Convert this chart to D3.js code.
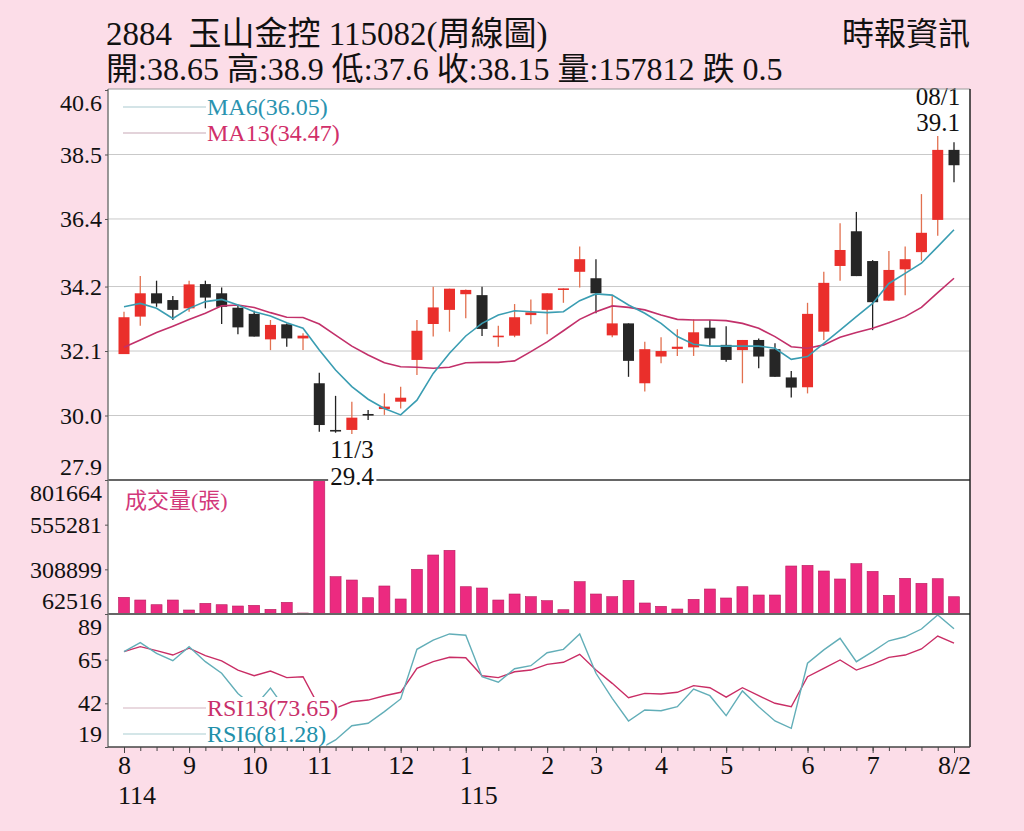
<!DOCTYPE html>
<html>
<head>
<meta charset="utf-8">
<script src="https://cdn.jsdelivr.net/npm/d3@7"></script>
<style>
  body { margin: 0; background: #fcdde8; }
  svg { display: block; }
  text { font-family: "Liberation Serif", "Noto Sans CJK TC", serif; }
</style>
</head>
<body>
<svg id="chart" width="1024" height="831"></svg>
<script>
// weekly OHLC (52 weeks)
const openP = [32.00, 33.22, 33.98, 33.76, 33.49, 34.28, 33.98, 33.51, 33.31, 32.48, 32.97, 32.51, 31.05, 29.53, 29.53, 30.05, 30.21, 30.45, 31.81, 32.98, 33.44, 33.95, 33.92, 32.57, 32.60, 33.27, 33.44, 34.09, 34.68, 34.47, 32.61, 33.00, 31.05, 31.92, 32.17, 32.22, 32.86, 32.30, 32.13, 32.46, 32.16, 31.24, 30.92, 32.73, 34.87, 36.00, 35.03, 33.74, 34.76, 35.32, 36.37, 38.65];
const highP = [33.38, 34.54, 34.39, 33.89, 34.39, 34.39, 34.17, 33.60, 33.41, 33.11, 33.00, 32.68, 31.39, 30.64, 30.45, 30.18, 30.72, 30.94, 33.11, 34.19, 34.13, 34.10, 34.19, 32.92, 33.63, 33.78, 33.98, 34.14, 35.50, 35.09, 33.92, 33.00, 32.40, 32.55, 32.81, 33.13, 33.11, 32.91, 32.46, 32.51, 32.35, 31.45, 33.67, 34.68, 36.26, 36.63, 35.06, 35.36, 35.50, 37.21, 39.10, 38.90];
const lowP = [32.00, 32.92, 33.54, 33.11, 33.38, 33.49, 32.98, 32.65, 32.57, 32.13, 32.24, 32.13, 29.47, 29.44, 29.40, 29.85, 30.02, 30.23, 31.32, 32.57, 32.73, 33.17, 32.59, 32.24, 32.55, 32.97, 32.65, 33.67, 34.17, 33.33, 32.55, 31.26, 30.78, 31.70, 31.94, 31.94, 32.24, 31.75, 31.05, 31.54, 31.26, 30.59, 30.72, 32.46, 34.39, 34.54, 32.78, 33.74, 33.92, 35.04, 35.85, 37.60];
const closeP = [33.20, 33.98, 33.65, 33.44, 34.27, 33.84, 33.54, 32.87, 32.57, 32.95, 32.51, 32.60, 29.69, 29.50, 29.93, 30.00, 30.29, 30.58, 32.76, 33.52, 34.13, 34.09, 32.82, 32.60, 33.20, 33.36, 33.98, 34.14, 35.09, 33.98, 33.00, 31.78, 32.16, 32.10, 32.24, 32.71, 32.51, 31.81, 32.46, 31.92, 31.26, 30.91, 33.31, 34.32, 35.39, 34.54, 33.69, 34.74, 35.09, 35.95, 38.65, 38.15];

const ma6 = [33.54, 33.65, 33.49, 33.16, 33.49, 33.71, 33.78, 33.60, 33.38, 33.24, 33.02, 32.84, 32.13, 31.48, 30.94, 30.53, 30.23, 30.02, 30.50, 31.37, 32.03, 32.59, 33.00, 33.27, 33.41, 33.38, 33.35, 33.38, 33.74, 33.96, 33.92, 33.60, 33.33, 33.00, 32.57, 32.32, 32.26, 32.26, 32.26, 32.26, 32.19, 31.83, 31.92, 32.35, 32.78, 33.22, 33.65, 34.30, 34.63, 34.96, 35.50, 36.05];
const ma13 = [32.22, 32.46, 32.70, 32.91, 33.13, 33.33, 33.57, 33.60, 33.52, 33.35, 33.20, 33.19, 32.98, 32.62, 32.26, 31.97, 31.72, 31.59, 31.57, 31.54, 31.57, 31.72, 31.73, 31.73, 31.78, 32.08, 32.40, 32.76, 33.13, 33.38, 33.57, 33.52, 33.44, 33.27, 33.13, 33.11, 33.11, 33.09, 33.00, 32.84, 32.57, 32.24, 32.19, 32.30, 32.55, 32.70, 32.84, 33.02, 33.22, 33.52, 34.00, 34.47];

const volume = [154600, 139700, 113800, 139700, 84600, 121500, 113800, 106600, 110500, 88400, 127000, 68000, 801664, 268300, 250000, 152400, 217000, 145300, 309100, 388000, 413900, 213100, 205900, 139700, 172800, 158000, 135900, 86200, 240700, 172800, 158000, 248400, 123200, 105000, 90100, 143600, 200400, 150800, 213100, 167300, 167300, 327300, 331100, 299700, 255600, 340000, 298000, 165700, 259400, 231900, 257200, 157812];

const rsi6 = [69.2, 73.9, 68.3, 64.4, 71.8, 63.9, 57.8, 47.2, 40.0, 50.0, 38.0, 36.0, 18.0, 22.7, 30.2, 31.5, 37.6, 44.3, 70.4, 75.3, 78.5, 77.8, 56.0, 53.1, 60.2, 61.8, 68.6, 70.4, 78.5, 57.8, 44.6, 32.7, 38.5, 38.1, 40.2, 49.5, 46.0, 35.5, 48.5, 40.2, 32.7, 28.8, 63.1, 70.1, 76.2, 63.9, 69.2, 74.9, 77.0, 81.1, 88.5, 81.28];
const rsi13 = [69.2, 71.8, 69.7, 67.4, 71.0, 67.1, 64.3, 59.5, 56.5, 59.0, 55.5, 56.0, 40.0, 39.5, 42.8, 43.7, 46.0, 47.8, 60.4, 63.9, 66.2, 66.0, 56.5, 55.5, 58.6, 59.5, 62.5, 63.6, 67.8, 59.5, 52.5, 44.9, 47.2, 46.9, 47.8, 51.3, 50.2, 45.2, 50.2, 46.0, 42.0, 40.2, 56.0, 60.4, 64.8, 59.5, 62.5, 66.2, 67.4, 70.6, 77.4, 73.65];

const priceTicks = [27.9, 30.0, 32.1, 34.2, 36.4, 38.5, 40.6];
const volTicks = [62516, 308899, 555281, 801664];
const rsiTicks = [19, 42, 65, 89];
const monthIdx = [0, 4, 8, 12, 17, 21, 26, 29, 33, 37, 42, 46, 51];
const monthLabels = ["8", "9", "10", "11", "12", "1", "2", "3", "4", "5", "6", "7", "8/2"];
const yearLabels = { 0: "114", 21: "115" };

const svg = d3.select("#chart");
const L = 108, R = 970;
const plotTop = 89, priceBottom = 480, volBottom = 614, rsiBottom = 747;

const x = d3.scaleLinear().domain([0, 51]).range([124, 954]);
const yPrice = d3.scaleLinear().domain([27.9, 40.6]).range([priceBottom, plotTop + 1]);
const yVol = d3.scaleLinear().domain([62516, 801664]).range([volBottom, priceBottom]);
const yRsi = d3.scaleLinear().domain([19, 89]).range([rsiBottom, volBottom]);

// header
svg.append("text").attr("x", 106).attr("y", 45).attr("font-size", 33).attr("fill", "#111")
  .style("white-space", "pre").text("2884  玉山金控 115082(周線圖)");
svg.append("text").attr("x", 970).attr("y", 45).attr("font-size", 32).attr("fill", "#111")
  .attr("text-anchor", "end").text("時報資訊");
svg.append("text").attr("x", 106).attr("y", 80).attr("font-size", 32).attr("fill", "#111")
  .text("開:38.65 高:38.9 低:37.6 收:38.15 量:157812 跌 0.5");

// plot background
svg.append("rect").attr("x", L).attr("y", plotTop).attr("width", R - L).attr("height", rsiBottom - plotTop)
  .attr("fill", "#fff");

const defs = svg.append("defs");
defs.append("clipPath").attr("id", "clipRsi").append("rect")
  .attr("x", L).attr("y", volBottom).attr("width", R - L).attr("height", rsiBottom - volBottom);

// price grid
svg.append("g").selectAll("line").data(priceTicks.slice(1, -1)).join("line")
  .attr("x1", L).attr("x2", R).attr("y1", d => yPrice(d)).attr("y2", d => yPrice(d))
  .attr("stroke", "#c9c9c9").attr("stroke-width", 1);

// candles
const candles = svg.append("g");
const up = i => closeP[i] >= openP[i];
d3.range(52).forEach(i => {
  const cx = x(i);
  candles.append("line").attr("x1", cx).attr("x2", cx)
    .attr("y1", yPrice(highP[i])).attr("y2", yPrice(lowP[i]))
    .attr("stroke", up(i) ? "#e2704f" : "#222").attr("stroke-width", 1.3);
  const y0 = yPrice(Math.max(openP[i], closeP[i]));
  const y1 = yPrice(Math.min(openP[i], closeP[i]));
  candles.append("rect").attr("x", cx - 5.5).attr("width", 11)
    .attr("y", y0).attr("height", Math.max(1.6, y1 - y0))
    .attr("fill", up(i) ? "#ea2f2b" : "#262626");
});

// moving averages
const priceLine = d3.line().x((d, i) => x(i)).y(d => yPrice(d));
svg.append("path").attr("d", priceLine(ma13)).attr("fill", "none")
  .attr("stroke", "#c2306a").attr("stroke-width", 1.6);
svg.append("path").attr("d", priceLine(ma6)).attr("fill", "none")
  .attr("stroke", "#3a9db2").attr("stroke-width", 1.6);

// MA legend
svg.append("line").attr("x1", 123).attr("x2", 206).attr("y1", 107).attr("y2", 107)
  .attr("stroke", "#a9c9cf").attr("stroke-width", 1.2);
svg.append("line").attr("x1", 123).attr("x2", 206).attr("y1", 133).attr("y2", 133)
  .attr("stroke", "#c8a8b6").attr("stroke-width", 1.2);
svg.append("text").attr("x", 207).attr("y", 115).attr("font-size", 24).attr("fill", "#2a93b0").text("MA6(36.05)");
svg.append("text").attr("x", 207).attr("y", 141).attr("font-size", 24).attr("fill", "#d12f6a").text("MA13(34.47)");

// high note
svg.append("text").attr("x", 938).attr("y", 105).attr("font-size", 25).attr("text-anchor", "middle")
  .attr("fill", "#111").text("08/1");
svg.append("text").attr("x", 938).attr("y", 131).attr("font-size", 25).attr("text-anchor", "middle")
  .attr("fill", "#111").text("39.1");

// volume bars
svg.append("g").selectAll("rect").data(volume).join("rect")
  .attr("x", (d, i) => x(i) - 5.5).attr("width", 11)
  .attr("y", d => yVol(d)).attr("height", d => volBottom - yVol(d))
  .attr("fill", "#ec2a80").attr("stroke", "#b81e5e").attr("stroke-width", 0.6);
svg.append("text").attr("x", 125).attr("y", 508).attr("font-size", 22).attr("fill", "#d2387a")
  .text("成交量(張)");

// RSI
const rsiLine = d3.line().x((d, i) => x(i)).y(d => yRsi(d));
const rsiG = svg.append("g").attr("clip-path", "url(#clipRsi)");
rsiG.append("path").attr("d", rsiLine(rsi13)).attr("fill", "none")
  .attr("stroke", "#c92d65").attr("stroke-width", 1.4);
rsiG.append("path").attr("d", rsiLine(rsi6)).attr("fill", "none")
  .attr("stroke", "#62aeb8").attr("stroke-width", 1.4);

svg.append("line").attr("x1", 123).attr("x2", 206).attr("y1", 708).attr("y2", 708)
  .attr("stroke", "#d3b3c0").attr("stroke-width", 1.2);
svg.append("line").attr("x1", 123).attr("x2", 206).attr("y1", 734).attr("y2", 734)
  .attr("stroke", "#a9cdd2").attr("stroke-width", 1.2);
function boxedText(tx, ty, size, color, str) {
  const t = svg.append("text").attr("x", tx).attr("y", ty).attr("font-size", size)
    .attr("fill", color).text(str);
  const b = t.node().getBBox();
  svg.insert("rect", () => t.node()).attr("x", b.x).attr("y", b.y + 2)
    .attr("width", b.width).attr("height", b.height - 2).attr("fill", "#fff");
  return t;
}
boxedText(207, 716, 24, "#c9306a", "RSI13(73.65)");
boxedText(207, 742, 24, "#2290aa", "RSI6(81.28)");

// panel frames
svg.append("line").attr("x1", L).attr("x2", R).attr("y1", plotTop).attr("y2", plotTop)
  .attr("stroke", "#9a9a9a").attr("stroke-width", 1);
[priceBottom, volBottom].forEach(yy => {
  svg.append("line").attr("x1", L).attr("x2", R).attr("y1", yy).attr("y2", yy)
    .attr("stroke", "#666").attr("stroke-width", 1.8);
});
svg.append("line").attr("x1", L).attr("x2", L).attr("y1", plotTop).attr("y2", rsiBottom)
  .attr("stroke", "#777").attr("stroke-width", 1.5);
svg.append("line").attr("x1", R).attr("x2", R).attr("y1", plotTop).attr("y2", rsiBottom)
  .attr("stroke", "#222").attr("stroke-width", 1.5);

// 11/3 low note (boxed so it sits over the divider)
svg.append("text").attr("x", 352).attr("y", 458).attr("font-size", 25).attr("text-anchor", "middle")
  .attr("fill", "#111").text("11/3");
const lowNote = svg.append("text").attr("x", 352).attr("y", 485).attr("font-size", 25)
  .attr("text-anchor", "middle").attr("fill", "#111").text("29.4");
const lb = lowNote.node().getBBox();
svg.insert("rect", () => lowNote.node()).attr("x", lb.x - 2).attr("y", lb.y + 3)
  .attr("width", lb.width + 4).attr("height", lb.height - 4).attr("fill", "#fff");

// left axes
function leftAxis(scale, values, fmt) {
  const ax = svg.append("g").attr("transform", `translate(${L},0)`)
    .call(d3.axisLeft(scale).tickValues(values).tickFormat(fmt).tickSize(3).tickPadding(3));
  ax.select(".domain").remove();
  ax.selectAll("line").attr("stroke", "#555");
  ax.selectAll("text").attr("font-size", 24).attr("fill", "#111")
    .attr("font-family", "Liberation Serif")
    .attr("dy", (d, i) => i === 0 ? "-0.22em" : i === values.length - 1 ? "0.86em" : "0.32em");
}
leftAxis(yPrice, priceTicks, d3.format(".1f"));
leftAxis(yVol, volTicks, d3.format("d"));
leftAxis(yRsi, rsiTicks, d3.format("d"));

// bottom axis
const weekAxis = svg.append("g").attr("transform", `translate(0,${rsiBottom})`)
  .call(d3.axisBottom(x).tickValues(d3.range(52)).tickSize(4).tickFormat(""));
weekAxis.select(".domain").attr("d", `M${L},0H${R}`).attr("stroke", "#444").attr("stroke-width", 1.6);
weekAxis.selectAll("line").attr("stroke", "#444");

const monthAxis = svg.append("g").attr("transform", `translate(0,${rsiBottom})`)
  .call(d3.axisBottom(x).tickValues(monthIdx).tickSize(6).tickPadding(3)
    .tickFormat(d => monthLabels[monthIdx.indexOf(d)]));
monthAxis.select(".domain").remove();
monthAxis.selectAll("line").attr("stroke", "#444");
monthAxis.selectAll("text").attr("font-size", 26).attr("fill", "#111")
  .attr("font-family", "Liberation Serif");

// year under the first tick of each year
svg.append("g").selectAll("text").data(Object.keys(yearLabels).map(Number)).join("text")
  .attr("x", d => x(d) - 6).attr("y", 804).attr("font-size", 26).attr("fill", "#111")
  .text(d => yearLabels[d]);
</script>
</body>
</html>
